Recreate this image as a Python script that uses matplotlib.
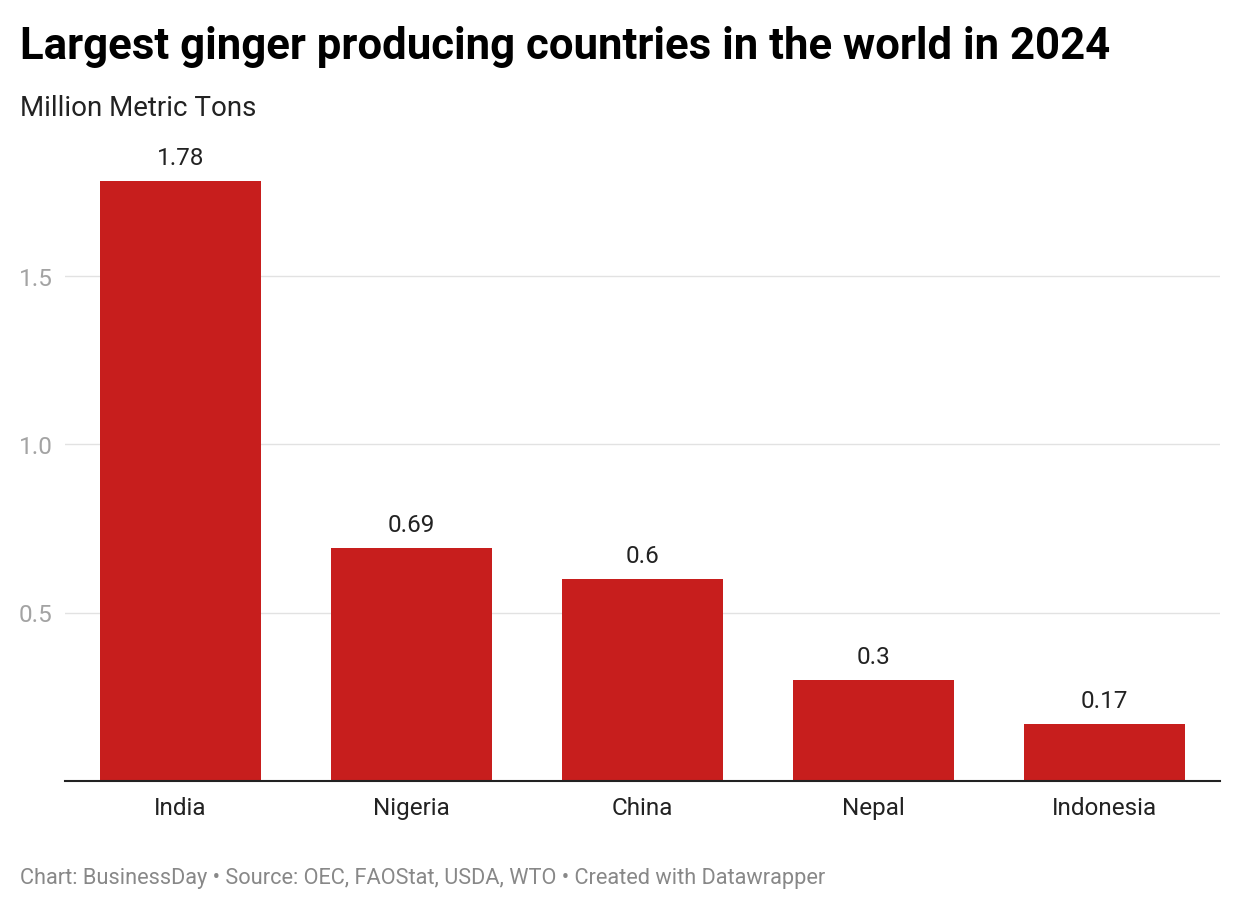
import matplotlib
matplotlib.use("Agg")
import matplotlib.pyplot as plt

countries = ["India", "Nigeria", "China", "Nepal", "Indonesia"]
production = [1.78, 0.69, 0.6, 0.3, 0.17]
value_labels = ["1.78", "0.69", "0.6", "0.3", "0.17"]
y_ticks = [0.5, 1.0, 1.5]

plt.rcParams["font.family"] = ["Roboto", "DejaVu Sans"]

W, H = 1240, 912
fig = plt.figure(figsize=(W / 100, H / 100), dpi=100)

# axes placed in pixel coords: x 65..1220, baseline at y=782
ax_left, ax_right = 65, 1220
y0 = 782
px_per_unit = 337
ymax = 1.85
ax_top = y0 - ymax * px_per_unit
ax = fig.add_axes([ax_left / W, 1 - y0 / H, (ax_right - ax_left) / W, (y0 - ax_top) / H])

x = range(len(countries))
ax.bar(x, production, width=0.7, color="#c71e1d", zorder=2)
ax.set_xlim(-0.5, len(countries) - 0.5)
ax.set_ylim(0, ymax)

for xi, v, lab in zip(x, production, value_labels):
    ax.annotate(lab, (xi, v), xytext=(0, 17), textcoords="offset pixels",
                ha="center", va="baseline", fontsize=17.5, color="#222222")

ax.set_yticks(y_ticks)
ax.set_yticklabels(["0.5", "1.0", "1.5"])
ax.grid(axis="y", color="#e2e2e2", linewidth=1, zorder=0)
ax.tick_params(axis="y", length=0, pad=9, labelsize=17.5, labelcolor="#a3a3a3")
ax.set_xticks(list(x))
ax.set_xticklabels(countries)
ax.tick_params(axis="x", length=0, pad=10.5, labelsize=17.5, labelcolor="#222222")

for s in ["top", "right", "left"]:
    ax.spines[s].set_visible(False)
ax.spines["bottom"].set_color("#222222")
ax.spines["bottom"].set_linewidth(1.5)

fig.text(20 / W, 1 - 59 / H, "Largest ginger producing countries in the world in 2024",
         fontsize=31.5, fontweight="bold", color="#000000", ha="left", va="baseline")
fig.text(20 / W, 1 - 116 / H, "Million Metric Tons", fontsize=20, color="#222222",
         ha="left", va="baseline")
fig.text(20 / W, 1 - 879 / H,
         "Chart: BusinessDay \u2022 Source: OEC, FAOStat, USDA, WTO \u2022 Created with Datawrapper",
         fontsize=15.7, color="#888888", ha="left", va="center")

fig.savefig("out.png", dpi=100)
